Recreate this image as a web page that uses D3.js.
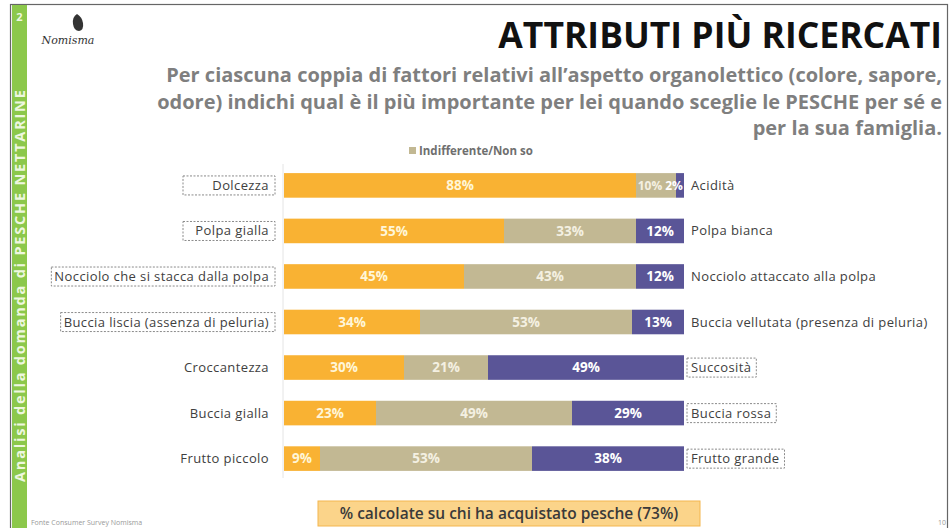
<!DOCTYPE html>
<html>
<head>
<meta charset="utf-8">
<script src="https://cdn.jsdelivr.net/npm/d3@7"></script>
<style>
  body { margin: 0; background: #fff; }
  svg { display: block; font-family: "Open Sans", "Noto Sans", sans-serif; }
</style>
</head>
<body>
<div id="chart"></div>
<script>
// values
const leftLabels = ["Dolcezza", "Polpa gialla", "Nocciolo che si stacca dalla polpa", "Buccia liscia (assenza di peluria)",
  "Croccantezza", "Buccia gialla", "Frutto piccolo"];
const rightLabels = ["Acidità", "Polpa bianca", "Nocciolo attaccato alla polpa", "Buccia vellutata (presenza  di peluria)",
  "Succosità", "Buccia rossa", "Frutto grande"];
const leftValues = [88, 55, 45, 34, 30, 23, 9];
const midValues = [10, 33, 43, 53, 21, 49, 53];
const rightValues = [2, 12, 12, 13, 49, 29, 38];
// which side of each pair is boxed (the preferred one)
const boxedSide = ["left", "left", "left", "left", "right", "right", "right"];
const seriesKeys = ["left", "mid", "right"];
const seriesColors = ["#f9b233", "#c2b893", "#5a5597"];
const legendLabel = "Indifferente/Non so";

const width = 952;
const height = 528;

const svg = d3.select("#chart").append("svg")
  .attr("width", width)
  .attr("height", height);

// slide frame
svg.append("rect")
  .attr("x", 10.5).attr("y", 4.5)
  .attr("width", 937).attr("height", 530)
  .attr("fill", "none").attr("stroke", "#666").attr("stroke-width", 1.2);

svg.append("rect")
  .attr("x", 12).attr("y", 5)
  .attr("width", 15).attr("height", 523)
  .attr("fill", "#8cc84b");

svg.append("text")
  .attr("x", 19.5).attr("y", 21)
  .attr("text-anchor", "middle")
  .attr("font-size", 11).attr("font-weight", "bold")
  .attr("fill", "#eef7e0")
  .text("2");

svg.append("text")
  .attr("transform", "translate(24.5,482) rotate(-90)")
  .attr("font-size", 14.5).attr("font-weight", "bold")
  .attr("letter-spacing", 1.8)
  .attr("fill", "#eef7e0")
  .text("Analisi della domanda di PESCHE NETTARINE");

// logo
const logo = svg.append("g");
logo.append("path")
  .attr("d", "M77,14 q-5,3 -4,10 q1,7 6,7 q5,-1 4,-8 q-1,-6 -6,-9 z")
  .attr("fill", "#333");
logo.append("text")
  .attr("x", 68).attr("y", 44)
  .attr("text-anchor", "middle")
  .attr("font-family", "'DejaVu Serif', serif")
  .attr("font-style", "italic")
  .attr("font-size", 11)
  .attr("fill", "#333")
  .text("Nomisma");

// title and question
svg.append("text")
  .attr("x", 942).attr("y", 48)
  .attr("text-anchor", "end")
  .attr("font-size", 35.5).attr("font-weight", "bold")
  .attr("fill", "#111")
  .text("ATTRIBUTI PIÙ RICERCATI");

const subtitle = [
  "Per ciascuna coppia di fattori relativi all’aspetto organolettico (colore, sapore,",
  "odore) indichi qual è il più importante per lei quando sceglie le PESCHE per sé e",
  "per la sua famiglia."
];
svg.append("g").selectAll("text")
  .data(subtitle)
  .join("text")
  .attr("x", 942)
  .attr("y", (d, i) => 82 + i * 26.5)
  .attr("text-anchor", "end")
  .attr("font-size", 20).attr("font-weight", "bold")
  .attr("fill", "#7f7f7f")
  .text(d => d);

// legend
svg.append("rect")
  .attr("x", 409).attr("y", 147)
  .attr("width", 7).attr("height", 7)
  .attr("fill", seriesColors[1]);
svg.append("text")
  .attr("x", 419).attr("y", 155)
  .attr("font-size", 11.5).attr("font-weight", "bold")
  .attr("fill", "#6f6f6f")
  .text(legendLabel);

// bars
const rows = leftLabels.map((label, i) => ({
  i, label, right: rightLabels[i],
  left: leftValues[i], mid: midValues[i], rightV: rightValues[i]
}));
const stackData = rows.map(r => ({ i: r.i, left: r.left, mid: r.mid, right: r.rightV }));
const stacked = d3.stack().keys(seriesKeys)(stackData);

const x = d3.scaleLinear().domain([0, 100]).range([284, 684]);
const y = d3.scaleBand()
  .domain(d3.range(leftLabels.length))
  .range([164, 480])
  .paddingInner(0.46)
  .paddingOuter(0.2);

const color = d3.scaleOrdinal().domain(seriesKeys).range(seriesColors);

svg.append("line")
  .attr("x1", x(0) - 1).attr("x2", x(0) - 1)
  .attr("y1", 164).attr("y2", 478)
  .attr("stroke", "#e4e4e4");

const layers = svg.append("g").selectAll("g")
  .data(stacked)
  .join("g")
  .attr("fill", d => color(d.key));

layers.selectAll("rect")
  .data(d => d)
  .join("rect")
  .attr("x", d => x(d[0]))
  .attr("y", d => y(d.data.i))
  .attr("width", d => x(Math.min(d[1], 100)) - x(d[0]))
  .attr("height", y.bandwidth());

const textColors = { left: "#fff6d8", mid: "#f4f0e2", right: "#ffffff" };
layers.selectAll("text")
  .data(d => d.map(v => ({ key: d.key, v })))
  .join("text")
  .attr("x", d => {
    const a = d.v[0], b = Math.min(d.v[1], 100);
    // first row: the two small segments are too narrow, labels sit side by side
    if (d.key === "mid" && d.v.data.i === 0) return x(a) + 14;
    if (d.key === "right" && d.v.data.i === 0) return x(a) - 2;
    return (x(a) + x(b)) / 2;
  })
  .attr("y", d => y(d.v.data.i) + y.bandwidth() / 2)
  .attr("dy", "0.36em")
  .attr("text-anchor", "middle")
  .attr("font-size", d => d.v.data.i === 0 && d.key !== "left" ? 12 : 13.5)
  .attr("font-weight", "bold")
  .attr("fill", d => textColors[d.key])
  .text(d => (d.v[1] - d.v[0]) + "%");

// category labels
const labelFont = 13;
const leftG = svg.append("g");
leftG.selectAll("text")
  .data(rows)
  .join("text")
  .attr("x", 269)
  .attr("y", d => y(d.i) + y.bandwidth() / 2)
  .attr("dy", "0.35em")
  .attr("text-anchor", "end")
  .attr("font-size", labelFont)
  .attr("letter-spacing", 0.4)
  .attr("fill", "#404040")
  .text(d => d.label);

const rightG = svg.append("g");
rightG.selectAll("text")
  .data(rows)
  .join("text")
  .attr("x", 691)
  .attr("y", d => y(d.i) + y.bandwidth() / 2)
  .attr("dy", "0.35em")
  .attr("font-size", labelFont)
  .attr("letter-spacing", 0.4)
  .attr("fill", "#404040")
  .text(d => d.right);

// dashed boxes round the preferred attribute
function boxAround(g, side, minW) {
  g.selectAll("text").each(function (d) {
    if (boxedSide[d.i] !== side) return;
    const bb = this.getBBox();
    const w = Math.max(bb.width + 9, minW);
    const x0 = side === "left" ? bb.x + bb.width + 6 - w : bb.x - 4;
    g.insert("rect", "text")
      .attr("x", x0).attr("y", bb.y)
      .attr("width", w).attr("height", bb.height + 1)
      .attr("fill", "none")
      .attr("stroke", "#8a8a8a")
      .attr("stroke-width", 1)
      .attr("stroke-dasharray", "2,1.5");
  });
}
boxAround(leftG, "left", 92);
boxAround(rightG, "right", 0);

// note box
svg.append("rect")
  .attr("x", 318).attr("y", 501)
  .attr("width", 382).attr("height", 25)
  .attr("fill", "#fbd48a")
  .attr("stroke", "#f3b64e").attr("stroke-width", 1);
svg.append("text")
  .attr("x", 509).attr("y", 518.5)
  .attr("text-anchor", "middle")
  .attr("font-size", 15.5).attr("font-weight", "600")
  .attr("fill", "#3a3a3a")
  .text("% calcolate su chi ha acquistato pesche (73%)");

svg.append("text")
  .attr("x", 31).attr("y", 525)
  .attr("font-size", 7)
  .attr("fill", "#999")
  .text("Fonte Consumer Survey Nomisma");

svg.append("text")
  .attr("x", 938).attr("y", 525)
  .attr("font-size", 7)
  .attr("fill", "#999")
  .text("10");
</script>
</body>
</html>
